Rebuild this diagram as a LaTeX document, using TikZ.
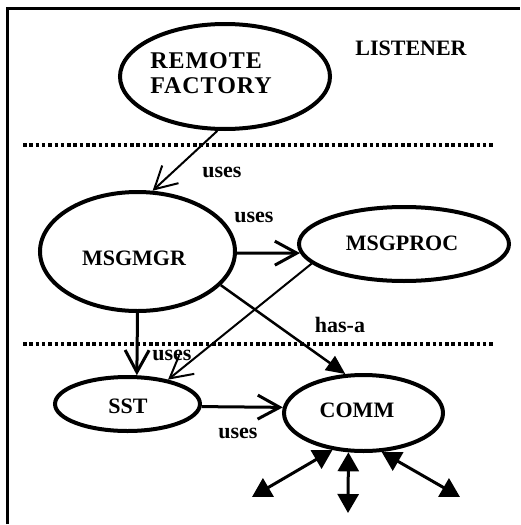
\documentclass[tikz,border=0pt]{standalone}
\usepackage{fontspec}
\setmainfont{Liberation Serif}
\newfontfamily\spacedserif[LetterSpace=4]{Liberation Serif}
\usetikzlibrary{arrows.meta,shapes.geometric}

\tikzset{
  ell/.style={ellipse, draw, line width=4pt, inner sep=0pt},
  txt/.style={inner sep=0pt, font=\bfseries\fontsize{22}{25}\selectfont},
  widetxt/.style={inner sep=0pt, font=\spacedserif\bfseries\fontsize{24}{25}\selectfont},
  openarrow/.style={-{Straight Barb[length=22pt,width=24pt]}},
  fillarrow/.style={-{Triangle[length=19pt,width=17pt]}},
  bothfill/.style={{Triangle[length=19pt,width=21pt]}-{Triangle[length=19pt,width=21pt]}, line width=3pt},
  divider/.style={line width=3.3pt, dash pattern=on 3.5pt off 2.8pt},
}

\begin{document}
\begin{tikzpicture}[x=1pt,y=-1pt]
\useasboundingbox (0,0) rectangle (520,525);

% outer frame (left and top edges)
\draw[line width=3pt] (7.5,524) -- (7.5,8) -- (520,8);

% tier dividers
\draw[divider] (23,145) -- (494,145);
\draw[divider] (23,344) -- (494,344);

% components
\node[ell, minimum width=210pt, minimum height=105pt] (rf)   at (225,76.5)  {};
\node[ell, minimum width=195pt, minimum height=119pt] (mgr)  at (137.5,251.5) {};
\node[ell, minimum width=210pt, minimum height=74pt]  (proc) at (404,244)   {};
\node[ell, minimum width=145pt, minimum height=54pt]  (sst)  at (127.5,404) {};
\node[ell, minimum width=159pt, minimum height=76pt]  (comm) at (363.5,413) {};

% component names
\node[widetxt, align=left] (rftext) at (211,73) {REMOTE\\FACTORY};
\node[txt] (mgrtext)  at (134,258) {MSGMGR};
\node[txt] (proctext) at (402,243) {MSGPROC};
\node[txt] (ssttext)  at (128,406) {SST};
\node[txt] (commtext) at (357,410) {COMM};
\node[txt] (listener) at (411,48)  {LISTENER};

% relations
\draw[openarrow, line width=2pt]   (rf.262)   -- (mgr.76.5);
\draw[openarrow, line width=3pt]   (mgr.359)  -- (proc.185);
\draw[openarrow, line width=3pt]   (mgr.270)  -- (sst.72);
\draw[openarrow, line width=2pt]   (proc.192.5) -- (sst.31);
\draw[fillarrow, line width=2.5pt] (mgr.338.4) -- (comm.115);
\draw[openarrow, line width=3pt]   (sst.358)  -- (comm.176);

% relation labels
\node[txt] (uses1) at (222,172) {uses};
\node[txt] (uses2) at (254,217) {uses};
\node[txt] (uses3) at (172,355) {uses};
\node[txt] (hasa)  at (340,325) {has-a};
\node[txt] (uses4) at (238,433) {uses};

% external links of COMM
\coordinate (outl) at (252,497);
\coordinate (outm) at (348,513);
\coordinate (outr) at (460,497);
\draw[bothfill] (comm.230) -- (outl);
\draw[bothfill] (comm.249) -- (outm);
\draw[bothfill] (comm.295) -- (outr);
\end{tikzpicture}
\end{document}
